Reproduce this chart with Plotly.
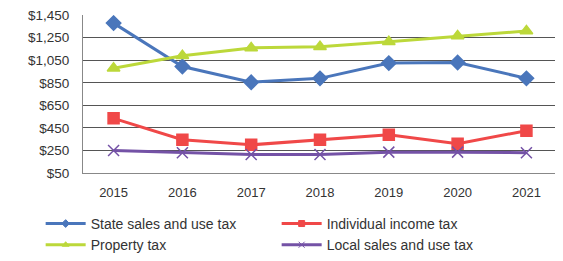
import plotly.graph_objects as go

years = ["2015", "2016", "2017", "2018", "2019", "2020", "2021"]
state_sales = [1380, 995, 855, 890, 1025, 1030, 890]
income_tax = [535, 345, 300, 345, 390, 310, 425]
property_tax = [980, 1090, 1160, 1170, 1215, 1265, 1310]
local_sales = [250, 230, 215, 215, 235, 235, 230]
y_ticks = [50, 250, 450, 650, 850, 1050, 1250, 1450]

series = [
    ("State sales and use tax", state_sales, "#4a76bb", "diamond", 11),
    ("Individual income tax", income_tax, "#f04848", "square", 11),
    ("Property tax", property_tax, "#bcd83a", "triangle-up", 11),
    ("Local sales and use tax", local_sales, "#7452a6", "x-thin-open", 11),
]

fig = go.Figure()
for name, vals, col, sym, sz in series:
    fig.add_trace(go.Scatter(
        x=years, y=vals, name=name, mode="lines+markers", showlegend=False,
        line=dict(color=col, width=3),
        marker=dict(symbol=sym, size=sz, color=col, line=dict(color=col, width=1.5)),
    ))
for name, vals, col, sym, sz in series:
    fig.add_trace(go.Scatter(
        x=[None], y=[None], name=name, mode="lines+markers", showlegend=True,
        line=dict(color=col, width=3),
        marker=dict(symbol=sym, size=6, color=col, line=dict(color=col, width=1)),
    ))

fig.update_layout(
    width=563, height=261,
    margin=dict(l=75, r=14, t=7, b=96, autoexpand=False),
    paper_bgcolor="white", plot_bgcolor="white",
    font=dict(family="Liberation Sans, Arial, sans-serif", size=13, color="#333333"),
    showlegend=True,
    legend=dict(orientation="h", xref="container", x=0.058, xanchor="left",
                yref="container", y=0.234, yanchor="top",
                entrywidth=181, font=dict(size=14), tracegroupgap=0,
                itemwidth=40, bgcolor="rgba(0,0,0,0)"),
    xaxis=dict(type="category", showgrid=False, showline=True, linecolor="#888888",
               ticks="outside", ticklen=7, tickcolor="rgba(0,0,0,0)", tickfont=dict(size=13)),
    yaxis=dict(range=[50, 1452], tickvals=y_ticks, tickformat="$,", showgrid=True,
               gridcolor="#555555", gridwidth=1, showline=True, linecolor="#888888",
               zeroline=False, ticks="outside", ticklen=10, tickcolor="rgba(0,0,0,0)",
               ticklabeloverflow="allow", tickfont=dict(size=13.5)),
)

fig.write_html("out.html")
